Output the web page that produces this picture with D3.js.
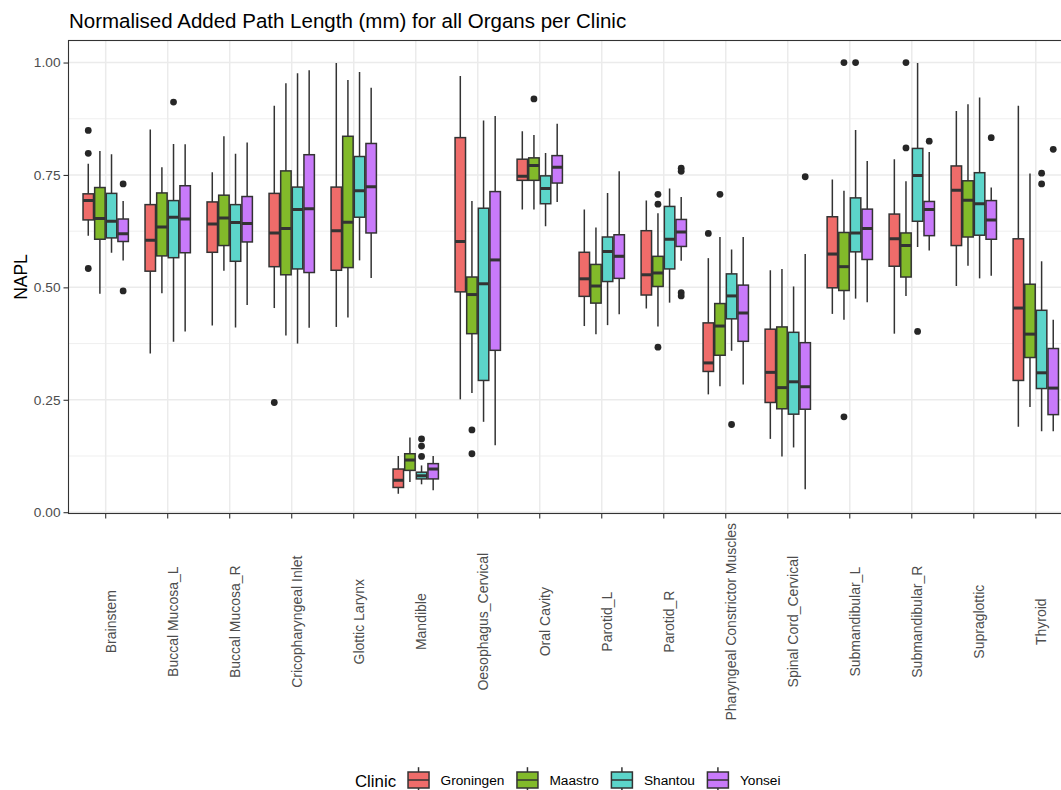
<!DOCTYPE html>
<html>
<head>
<meta charset="utf-8">
<script src="https://cdn.jsdelivr.net/npm/d3@7"></script>
<style>
  html, body { margin: 0; padding: 0; background: #fff; }
  svg { display: block; }
</style>
</head>
<body>
<div id="chart"></div>
<script>
// organs on the x axis, one box per clinic in each
const organs = ["Brainstem", "Buccal Mucosa_L", "Buccal Mucosa_R", "Cricopharyngeal Inlet",
  "Glottic Larynx", "Mandible", "Oesophagus_Cervical", "Oral Cavity", "Parotid_L", "Parotid_R",
  "Pharyngeal Constrictor Muscles", "Spinal Cord_Cervical", "Submandibular_L", "Submandibular_R",
  "Supraglottic", "Thyroid"];
const clinics = ["Groningen", "Maastro", "Shantou", "Yonsei"];
const yTicks = [0, 0.25, 0.5, 0.75, 1.0];

// box stats per organ: [lower whisker, q1, median, q3, upper whisker]
const groningenStats = [
  [0.615, 0.650, 0.693, 0.708, 0.775], [0.353, 0.536, 0.605, 0.684, 0.851],
  [0.415, 0.578, 0.641, 0.690, 0.756], [0.454, 0.546, 0.621, 0.709, 0.904],
  [0.412, 0.538, 0.626, 0.723, 0.999], [0.041, 0.055, 0.071, 0.096, 0.125],
  [0.251, 0.490, 0.602, 0.833, 0.970], [0.673, 0.738, 0.747, 0.785, 0.847],
  [0.414, 0.480, 0.519, 0.578, 0.673], [0.453, 0.483, 0.528, 0.626, 0.693],
  [0.262, 0.313, 0.332, 0.421, 0.565], [0.163, 0.244, 0.311, 0.407, 0.538],
  [0.441, 0.499, 0.574, 0.657, 0.740], [0.397, 0.547, 0.608, 0.663, 0.785],
  [0.503, 0.593, 0.716, 0.770, 0.892], [0.190, 0.293, 0.454, 0.608, 0.904]
];
const maastroStats = [
  [0.486, 0.607, 0.653, 0.722, 0.803], [0.487, 0.570, 0.634, 0.710, 0.767],
  [0.537, 0.593, 0.654, 0.705, 0.836], [0.393, 0.528, 0.631, 0.759, 0.954],
  [0.433, 0.544, 0.645, 0.836, 0.961], [0.067, 0.093, 0.116, 0.130, 0.166],
  [0.265, 0.397, 0.484, 0.523, 0.692], [0.673, 0.738, 0.771, 0.788, 0.839],
  [0.396, 0.465, 0.503, 0.551, 0.633], [0.413, 0.502, 0.532, 0.569, 0.665],
  [0.280, 0.349, 0.414, 0.464, 0.612], [0.124, 0.230, 0.277, 0.412, 0.541],
  [0.428, 0.493, 0.546, 0.622, 0.715], [0.481, 0.523, 0.593, 0.621, 0.736],
  [0.548, 0.612, 0.694, 0.737, 0.907], [0.234, 0.344, 0.396, 0.507, 0.753]
];
const shantouStats = [
  [0.577, 0.610, 0.647, 0.709, 0.796], [0.379, 0.566, 0.656, 0.693, 0.819],
  [0.411, 0.558, 0.644, 0.684, 0.797], [0.375, 0.541, 0.673, 0.723, 0.976],
  [0.560, 0.656, 0.715, 0.791, 0.979], [0.062, 0.074, 0.081, 0.089, 0.104],
  [0.201, 0.293, 0.508, 0.676, 0.871], [0.636, 0.686, 0.720, 0.748, 0.799],
  [0.416, 0.513, 0.580, 0.612, 0.710], [0.466, 0.541, 0.607, 0.680, 0.720],
  [0.359, 0.430, 0.481, 0.530, 0.584], [0.144, 0.218, 0.290, 0.400, 0.502],
  [0.475, 0.579, 0.621, 0.699, 0.850], [0.590, 0.647, 0.749, 0.809, 0.999],
  [0.520, 0.616, 0.686, 0.755, 0.922], [0.180, 0.275, 0.310, 0.449, 0.558]
];
const yonseiStats = [
  [0.560, 0.602, 0.619, 0.652, 0.692], [0.402, 0.577, 0.652, 0.726, 0.818],
  [0.461, 0.601, 0.642, 0.702, 0.822], [0.410, 0.533, 0.675, 0.795, 0.983],
  [0.521, 0.621, 0.724, 0.820, 0.944], [0.049, 0.074, 0.096, 0.108, 0.125],
  [0.149, 0.360, 0.561, 0.713, 0.881], [0.690, 0.732, 0.767, 0.793, 0.864],
  [0.440, 0.520, 0.569, 0.617, 0.758], [0.559, 0.591, 0.623, 0.651, 0.701],
  [0.284, 0.380, 0.443, 0.505, 0.612], [0.051, 0.229, 0.279, 0.377, 0.574],
  [0.467, 0.562, 0.631, 0.674, 0.781], [0.582, 0.615, 0.673, 0.691, 0.801],
  [0.526, 0.607, 0.650, 0.693, 0.722], [0.180, 0.217, 0.276, 0.364, 0.428]
];

// outliers: [organ, value]
const groningenOutliers = [["Brainstem", 0.849], ["Brainstem", 0.798], ["Brainstem", 0.542],
  ["Cricopharyngeal Inlet", 0.244], ["Pharyngeal Constrictor Muscles", 0.620]];
const maastroOutliers = [["Oesophagus_Cervical", 0.183], ["Oesophagus_Cervical", 0.130],
  ["Oral Cavity", 0.919], ["Parotid_R", 0.707], ["Parotid_R", 0.685], ["Parotid_R", 0.367],
  ["Pharyngeal Constrictor Muscles", 0.707], ["Submandibular_L", 1.0], ["Submandibular_L", 0.212],
  ["Submandibular_R", 1.0], ["Submandibular_R", 0.810]];
const shantouOutliers = [["Buccal Mucosa_L", 0.912], ["Mandible", 0.163], ["Mandible", 0.147],
  ["Mandible", 0.124], ["Pharyngeal Constrictor Muscles", 0.195], ["Submandibular_L", 1.0],
  ["Submandibular_R", 0.402], ["Thyroid", 0.754], ["Thyroid", 0.730]];
const yonseiOutliers = [["Brainstem", 0.730], ["Brainstem", 0.492], ["Parotid_R", 0.765],
  ["Parotid_R", 0.758], ["Parotid_R", 0.488], ["Parotid_R", 0.481], ["Spinal Cord_Cervical", 0.746],
  ["Submandibular_R", 0.825], ["Supraglottic", 0.833], ["Thyroid", 0.807]];

const statsByClinic = [groningenStats, maastroStats, shantouStats, yonseiStats];
const outliersByClinic = [groningenOutliers, maastroOutliers, shantouOutliers, yonseiOutliers];
const clinicColors = ["#EF6C6A", "#82BA2A", "#5CD5CA", "#C87AFA"];

const width = 1061, height = 790;
const panel = { left: 68.5, top: 40.5, right: 1073, bottom: 513.5 };
const fontFamily = "'Liberation Sans', Arial, Helvetica, sans-serif";
const darkLine = "#333333";

const svg = d3.select("#chart").append("svg")
  .attr("width", width)
  .attr("height", height);

// scales
const x = d3.scaleBand()
  .domain(organs)
  .range([panel.left, panel.right])
  .paddingInner(0)
  .paddingOuter(0.1);
const step = x.step();
const xDodge = d3.scaleBand()
  .domain(clinics)
  .range([-0.375 * step, 0.375 * step]);
const boxW = xDodge.bandwidth() * 0.9;

const y = d3.scaleLinear()
  .domain([-0.0029, 1.049])
  .range([panel.bottom, panel.top]);

// panel background + grid
svg.append("defs").append("clipPath").attr("id", "panelClip")
  .append("rect")
  .attr("x", panel.left).attr("y", panel.top)
  .attr("width", panel.right - panel.left).attr("height", panel.bottom - panel.top);

const grid = svg.append("g").attr("clip-path", "url(#panelClip)");
const minorTicks = [0.125, 0.375, 0.625, 0.875];
grid.selectAll(".minor").data(minorTicks).enter().append("line")
  .attr("x1", panel.left).attr("x2", panel.right)
  .attr("y1", d => y(d)).attr("y2", d => y(d))
  .attr("stroke", "#EBEBEB").attr("stroke-width", 0.8);
grid.selectAll(".major-y").data(yTicks).enter().append("line")
  .attr("x1", panel.left).attr("x2", panel.right)
  .attr("y1", d => y(d)).attr("y2", d => y(d))
  .attr("stroke", "#EBEBEB").attr("stroke-width", 1.5);
grid.selectAll(".major-x").data(organs).enter().append("line")
  .attr("x1", d => x(d) + step / 2).attr("x2", d => x(d) + step / 2)
  .attr("y1", panel.top).attr("y2", panel.bottom)
  .attr("stroke", "#EBEBEB").attr("stroke-width", 1.5);

// boxes
const plot = svg.append("g").attr("clip-path", "url(#panelClip)");
clinics.forEach((clinic, ci) => {
  const g = plot.append("g").attr("class", "clinic-" + clinic);
  const rows = organs.map((o, i) => ({ organ: o, s: statsByClinic[ci][i] }));
  const cx = d => x(d.organ) + step / 2 + xDodge(clinic) + xDodge.bandwidth() / 2;

  const box = g.selectAll(".box").data(rows).enter().append("g");
  box.append("line")
    .attr("x1", cx).attr("x2", cx)
    .attr("y1", d => y(d.s[3])).attr("y2", d => y(d.s[4]))
    .attr("stroke", darkLine).attr("stroke-width", 1.5);
  box.append("line")
    .attr("x1", cx).attr("x2", cx)
    .attr("y1", d => y(d.s[0])).attr("y2", d => y(d.s[1]))
    .attr("stroke", darkLine).attr("stroke-width", 1.5);
  box.append("rect")
    .attr("x", d => cx(d) - boxW / 2)
    .attr("y", d => y(d.s[3]))
    .attr("width", boxW)
    .attr("height", d => y(d.s[1]) - y(d.s[3]))
    .attr("fill", clinicColors[ci])
    .attr("stroke", darkLine).attr("stroke-width", 1.5);
  box.append("line")
    .attr("x1", d => cx(d) - boxW / 2).attr("x2", d => cx(d) + boxW / 2)
    .attr("y1", d => y(d.s[2])).attr("y2", d => y(d.s[2]))
    .attr("stroke", darkLine).attr("stroke-width", 3);

  g.selectAll(".outlier").data(outliersByClinic[ci]).enter().append("circle")
    .attr("cx", d => x(d[0]) + step / 2 + xDodge(clinic) + xDodge.bandwidth() / 2)
    .attr("cy", d => y(d[1]))
    .attr("r", 3.4)
    .attr("fill", "#262626");
});

// panel border
svg.append("rect")
  .attr("x", panel.left).attr("y", panel.top)
  .attr("width", panel.right - panel.left).attr("height", panel.bottom - panel.top)
  .attr("fill", "none").attr("stroke", darkLine).attr("stroke-width", 1.1);

// y axis
const yAxis = svg.append("g")
  .attr("transform", `translate(${panel.left},0)`)
  .call(d3.axisLeft(y).tickValues(yTicks).tickFormat(d3.format(".2f")).tickSize(5).tickPadding(3));
yAxis.select(".domain").remove();
yAxis.selectAll(".tick line").attr("stroke", darkLine).attr("stroke-width", 1.1);
yAxis.selectAll(".tick text")
  .attr("fill", "#4D4D4D")
  .style("font-family", fontFamily)
  .style("font-size", "13.7px");

// x axis with vertical labels
const xAxis = svg.append("g")
  .attr("transform", `translate(0,${panel.bottom})`)
  .call(d3.axisBottom(x).tickSize(5));
xAxis.select(".domain").remove();
xAxis.selectAll(".tick line").attr("stroke", darkLine).attr("stroke-width", 1.1);
xAxis.selectAll(".tick text")
  .attr("transform", `translate(0,${621.7 - panel.bottom}) rotate(-90)`)
  .attr("x", 0).attr("y", 10.6).attr("dy", 0)
  .attr("text-anchor", "middle")
  .attr("fill", "#4D4D4D")
  .style("font-family", fontFamily)
  .style("font-size", "14px");

// axis title
svg.append("text")
  .attr("transform", `translate(26.5,${(panel.top + panel.bottom) / 2}) rotate(-90)`)
  .attr("text-anchor", "middle")
  .attr("fill", "#000")
  .style("font-family", fontFamily)
  .style("font-size", "17.5px")
  .text("NAPL");

// title
svg.append("text")
  .attr("x", 69).attr("y", 27.5)
  .attr("fill", "#000")
  .style("font-family", fontFamily)
  .style("font-size", "20.5px")
  .text("Normalised Added Path Length (mm) for all Organs per Clinic");

// legend
const legend = svg.append("g");
const legendY = 780;
const keyW = 28, keyH = 32;
const legTitle = legend.append("text")
  .attr("x", 0).attr("y", legendY + 6.5)
  .style("font-family", fontFamily).style("font-size", "16.8px")
  .attr("fill", "#000")
  .text("Clinic");
let cursor = legTitle.node().getComputedTextLength() + 8.5;
clinics.forEach((clinic, ci) => {
  const k = legend.append("g").attr("transform", `translate(${cursor},${legendY - keyH / 2})`);
  k.append("line").attr("x1", keyW / 2).attr("x2", keyW / 2).attr("y1", keyH * 0.1).attr("y2", keyH * 0.9)
    .attr("stroke", darkLine).attr("stroke-width", 1.5);
  k.append("rect").attr("x", keyW * 0.125).attr("y", keyH * 0.25)
    .attr("width", keyW * 0.75).attr("height", keyH * 0.5)
    .attr("fill", clinicColors[ci]).attr("stroke", darkLine).attr("stroke-width", 1.5);
  k.append("line").attr("x1", keyW * 0.125).attr("x2", keyW * 0.875)
    .attr("y1", keyH / 2).attr("y2", keyH / 2)
    .attr("stroke", darkLine).attr("stroke-width", 1.5);
  cursor += keyW + 8;
  const t = legend.append("text")
    .attr("x", cursor).attr("y", legendY + 5)
    .style("font-family", fontFamily).style("font-size", "13.7px")
    .attr("fill", "#000")
    .text(clinic);
  cursor += t.node().getComputedTextLength() + 9;
});
const legendWidth = cursor - 9;
const panelCenter = (panel.left + panel.right) / 2;
legend.attr("transform", `translate(${panelCenter - legendWidth / 2 - 3},0)`);
</script>
</body>
</html>
